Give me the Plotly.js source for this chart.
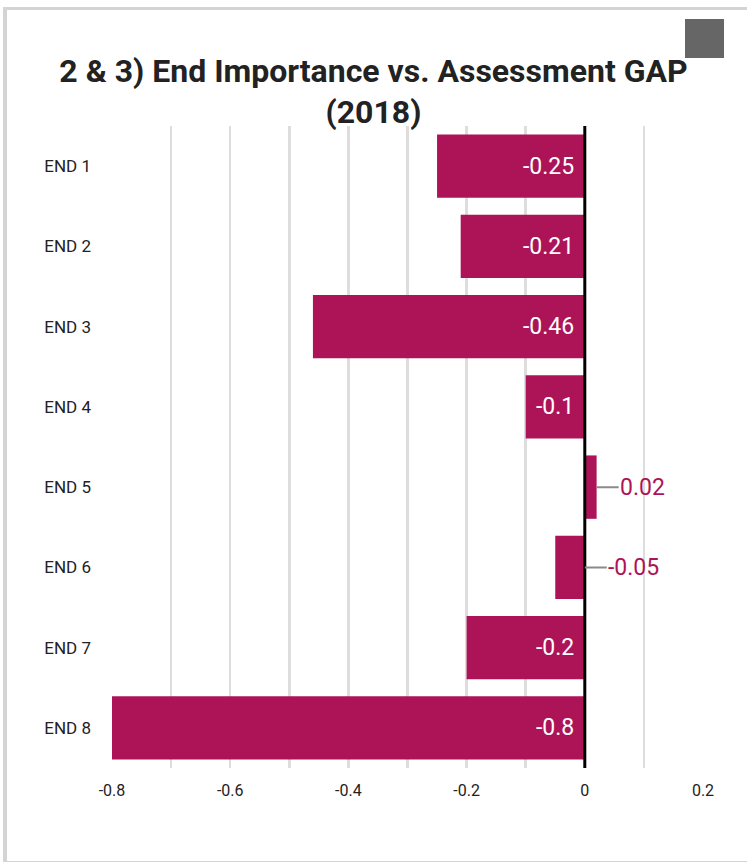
<!DOCTYPE html>
<html>
<head>
<meta charset="utf-8">
<script src="https://cdn.plot.ly/plotly-3.0.1.min.js"></script>
<style>
  html, body { margin: 0; padding: 0; background: #fff; }
  #chart { position: absolute; left: 0; top: 0; width: 747px; height: 862px; }
  #frame { position: absolute; left: 3px; top: 7px; width: 740px; height: 851px;
           border-left: 4px solid #d4d4d4; border-top: 3px solid #d4d4d4;
           border-right: 2px solid #d4d4d4; border-bottom: 2px solid #d4d4d4; pointer-events: none; }
  #menu { position: absolute; left: 685px; top: 19px; width: 39px; height: 39px; background: #666; }
</style>
</head>
<body>
<div id="chart"></div>
<div id="frame"></div>
<div id="menu"></div>
<script>
const categories = ["END 1", "END 2", "END 3", "END 4", "END 5", "END 6", "END 7", "END 8"];
const gapValues = [-0.25, -0.21, -0.46, -0.1, 0.02, -0.05, -0.2, -0.8];
const xTickVals = [-0.8, -0.6, -0.4, -0.2, 0, 0.2];
const xTickText = ["-0.8", "-0.6", "-0.4", "-0.2", "0", "0.2"];
const chartTitle = "2 & 3) End Importance vs. Assessment GAP<br>(2018)";

const barColor = "#AD1457";
const font = "Roboto, sans-serif";

const annotations = [];
gapValues.forEach((v, i) => {
  const small = Math.abs(v) < 0.08;
  if (!small) {
    annotations.push({
      x: 0, y: categories[i], xref: "x", yref: "y",
      text: String(v), showarrow: false, xanchor: "right", xshift: -9,
      font: { family: font, size: 23, color: "#ffffff" }
    });
  } else {
    annotations.push({
      x: Math.max(v, 0), y: categories[i], xref: "x", yref: "y",
      text: String(v), showarrow: true, arrowhead: 0, arrowwidth: 2, arrowcolor: "#8a8a8a",
      ax: 22, ay: 0, xanchor: "left", standoff: 0, borderpad: 0,
      font: { family: font, size: 23, color: barColor }
    });
  }
});

const trace = {
  type: "bar", orientation: "h",
  y: categories, x: gapValues,
  marker: { color: barColor },
  hoverinfo: "none"
};

const layout = {
  width: 747, height: 862,
  margin: { l: 112, r: 44, t: 126, b: 94, pad: 0 },
  paper_bgcolor: "#ffffff", plot_bgcolor: "#ffffff",
  showlegend: false,
  bargap: 0.21,
  title: {
    text: chartTitle, x: 0.5, xanchor: "center", y: 0.905, yanchor: "top",
    font: { family: font, size: 32, color: "#222222", weight: "bold" }
  },
  xaxis: {
    range: [-0.8, 0.2], tickvals: xTickVals, ticktext: xTickText,
    showgrid: true, gridcolor: "#dddddd", gridwidth: 2.5,
    minor: { dtick: 0.1, tick0: 0, showgrid: true, gridcolor: "#dddddd", gridwidth: 2.5 },
    zeroline: false, showline: false, ticks: "",
    tickfont: { family: font, size: 16, color: "#222222" },
    ticklabelstandoff: 11, fixedrange: true
  },
  yaxis: {
    autorange: "reversed", showgrid: false, zeroline: false, showline: false, ticks: "",
    tickfont: { family: font, size: 17, color: "#222222" },
    ticklabelstandoff: 20, fixedrange: true
  },
  shapes: [{
    type: "line", xref: "x", yref: "paper", x0: 0, x1: 0, y0: 0, y1: 1,
    line: { color: "#000000", width: 3 }, layer: "above"
  }],
  annotations: annotations
};

Plotly.newPlot("chart", [trace], layout, { displayModeBar: false, staticPlot: true });
</script>
</body>
</html>
